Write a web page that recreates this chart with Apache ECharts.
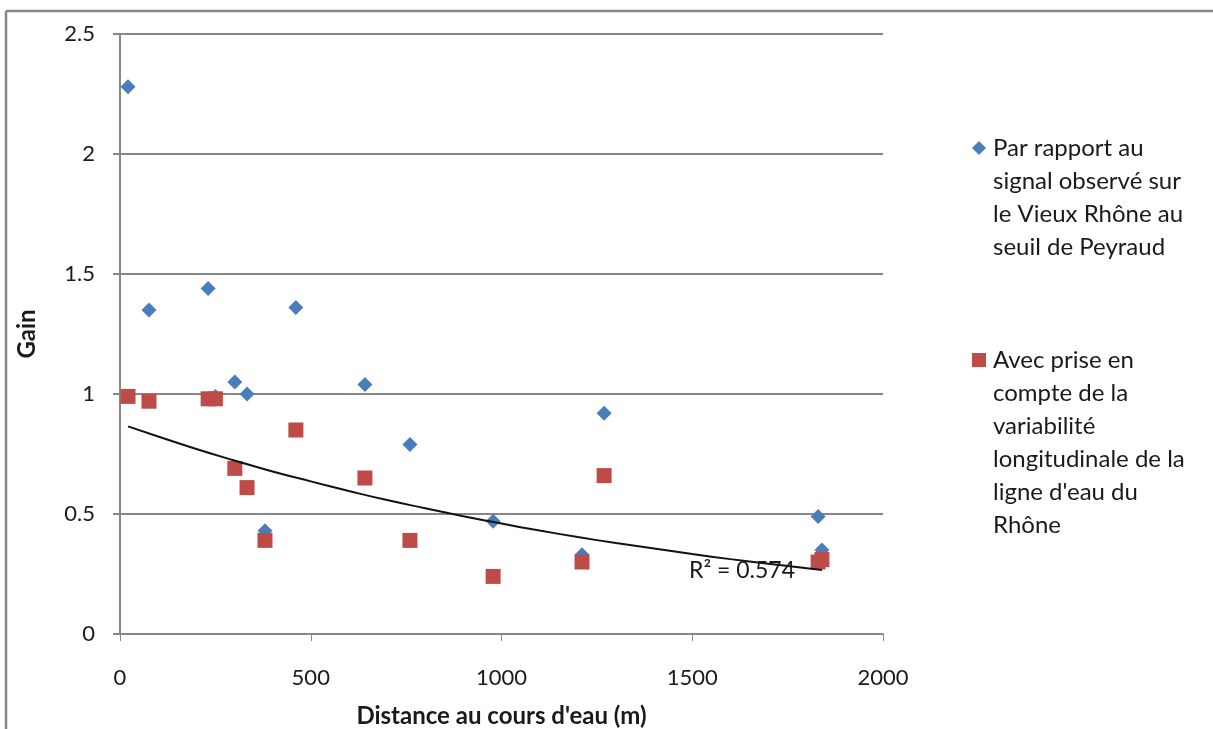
<!DOCTYPE html>
<html>
<head>
<meta charset="utf-8">
<script src="https://cdn.jsdelivr.net/npm/echarts@6/dist/echarts.min.js"></script>
<style>
html,body{margin:0;padding:0;background:#fff;}
#chart{width:1213px;height:729px;}
</style>
</head>
<body>
<div id="chart"></div>
<script>
// Distance (m) shared by both series
var distances = [21, 76, 231, 250, 301, 333, 380, 461, 642, 760, 978, 1211, 1269, 1830, 1840];
// Par rapport au signal observé sur le Vieux Rhône au seuil de Peyraud
var gainObserved = [2.28, 1.35, 1.44, 0.99, 1.05, 1.00, 0.43, 1.36, 1.04, 0.79, 0.47, 0.33, 0.92, 0.49, 0.35];
// Avec prise en compte de la variabilité longitudinale de la ligne d'eau du Rhône
var gainVariability = [0.99, 0.97, 0.98, 0.98, 0.69, 0.61, 0.39, 0.85, 0.65, 0.39, 0.24, 0.30, 0.66, 0.30, 0.31];
// Trend curve
var trendX = [21, 100, 200, 300, 400, 500, 600, 700, 800, 900, 1000, 1100, 1200, 1300, 1400, 1500, 1600, 1700, 1840];
var trendY = [0.865, 0.823, 0.771, 0.723, 0.677, 0.636, 0.596, 0.558, 0.524, 0.491, 0.460, 0.431, 0.404, 0.379, 0.356, 0.333, 0.312, 0.293, 0.267];
var xTicks = [0, 500, 1000, 1500, 2000];
var yTicks = [0, 0.5, 1, 1.5, 2, 2.5];
var seriesNames = [
  "Par rapport au\nsignal observé sur\nle Vieux Rhône au\nseuil de Peyraud",
  "Avec prise en\ncompte de la\nvariabilité\nlongitudinale de la\nligne d'eau du\nRhône"
];
var r2Label = "R² = 0.574";
var xTitle = "Distance au cours d'eau (m)";
var yTitle = "Gain";

function pairs(xs, ys){ return xs.map(function(x,i){ return [x, ys[i]]; }); }

var blue = '#4A7EBB', red = '#BE4B48', gray = '#878787';
var font = 'Lato, "Open Sans", sans-serif';

var chart = echarts.init(document.getElementById('chart'));
chart.setOption({
  animation: false,
  backgroundColor: '#fff',
  grid: {left: 120, right: 330, top: 34, bottom: 95, containLabel: false, outerBoundsMode: 'none'},
  xAxis: {
    type: 'value', min: xTicks[0], max: xTicks[xTicks.length-1], interval: 500,
    name: xTitle, nameLocation: 'middle', nameGap: 70,
    nameTextStyle: {fontFamily: font, fontSize: 24, fontWeight: 'bold', color: '#1a1a1a'},
    axisLine: {show: true, onZero: false, lineStyle: {color: gray, width: 2}},
    axisTick: {show: true, length: 7, inside: false, lineStyle: {color: gray, width: 1}},
    axisLabel: {margin: 33, fontFamily: font, fontSize: 22, color: '#1a1a1a',
      formatter: function(v){ return String(v); }},
    splitLine: {show: false}
  },
  yAxis: {
    type: 'value', min: yTicks[0], max: yTicks[yTicks.length-1], interval: 0.5,
    name: yTitle, nameLocation: 'middle', nameGap: 81, nameRotate: 90,
    nameTextStyle: {fontFamily: font, fontSize: 24, fontWeight: 'bold', color: '#1a1a1a'},
    axisLine: {show: true, lineStyle: {color: gray, width: 2}},
    axisTick: {show: true, length: 7, lineStyle: {color: gray, width: 2}},
    axisLabel: {margin: 25, fontFamily: font, fontSize: 22, color: '#1a1a1a',
      formatter: function(v){ return String(v); }},
    splitLine: {show: true, lineStyle: {color: gray, width: 2}}
  },
  legend: {show: false, data: seriesNames},
  series: [
    {
      name: seriesNames[0], type: 'scatter', symbol: 'diamond', symbolSize: 15,
      itemStyle: {color: blue, opacity: 1}, z: 2,
      data: pairs(distances, gainObserved)
    },
    {
      name: seriesNames[1], type: 'scatter', symbol: 'rect', symbolSize: 15,
      itemStyle: {color: red, opacity: 1}, z: 3,
      data: pairs(distances, gainVariability)
    },
    {
      name: 'trend', type: 'line', smooth: true, showSymbol: false, symbol: 'none',
      lineStyle: {color: '#111', width: 2}, z: 4, silent: true,
      data: pairs(trendX, trendY)
    }
  ],
  graphic: [
    {type: 'line', shape: {x1: 6, y1: 11, x2: 1213, y2: 11}, style: {stroke: gray, lineWidth: 2.5}},
    {type: 'line', shape: {x1: 6, y1: 11, x2: 6, y2: 729}, style: {stroke: gray, lineWidth: 2.5}},
    {type: 'polygon', shape: {points: [[979,141],[986,148],[979,155],[972,148]]}, style: {fill: blue}},
    {type: 'text', x: 993, y: 131.5, style: {text: seriesNames[0], font: '24px ' + font, lineHeight: 33, fill: '#1a1a1a', textVerticalAlign: 'top'}},
    {type: 'rect', shape: {x: 972, y: 353, width: 14, height: 14}, style: {fill: red}},
    {type: 'text', x: 993, y: 343.5, style: {text: seriesNames[1], font: '24px ' + font, lineHeight: 33, fill: '#1a1a1a', textVerticalAlign: 'top'}},
    {type: 'text', x: 689, y: 571, z: 10, style: {text: r2Label, font: '23px ' + font, fill: '#1a1a1a', textVerticalAlign: 'middle'}}
  ]
});
</script>
</body>
</html>
